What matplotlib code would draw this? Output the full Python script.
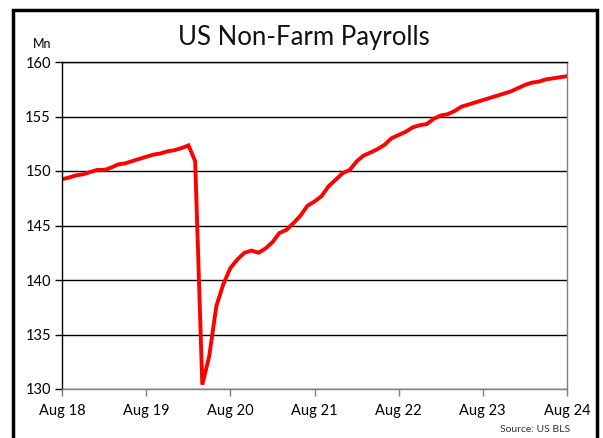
import numpy as np
import pandas as pd
import matplotlib.pyplot as plt
from matplotlib.patches import Rectangle

# Monthly non-farm payrolls, millions, Aug 2018 - Aug 2024
months = pd.date_range("2018-08-01", "2024-08-01", freq="MS")
payrolls = [
    149.25, 149.4, 149.6, 149.7, 149.9,
    150.1, 150.1, 150.3, 150.6, 150.7, 150.9, 151.1, 151.3, 151.5, 151.6, 151.8, 151.9,
    152.1, 152.35, 150.9, 130.4, 133.0, 137.6, 139.6, 141.1, 141.9, 142.5, 142.7, 142.5,
    142.9, 143.5, 144.3, 144.6, 145.2, 145.9, 146.8, 147.2, 147.7, 148.6, 149.2, 149.8,
    150.1, 150.9, 151.4, 151.7, 152.0, 152.4, 153.0, 153.3, 153.6, 154.0, 154.2, 154.3,
    154.8, 155.1, 155.2, 155.5, 155.9, 156.1, 156.3, 156.5, 156.7, 156.9, 157.1, 157.3,
    157.6, 157.9, 158.1, 158.2, 158.4, 158.5, 158.6, 158.7,
]
x_ticks = pd.date_range("2018-08-01", "2024-08-01", freq="12MS")
x_labels = ["Aug 18", "Aug 19", "Aug 20", "Aug 21", "Aug 22", "Aug 23", "Aug 24"]
y_ticks = [130, 135, 140, 145, 150, 155, 160]

plt.rcParams["font.family"] = ["Lato", "DejaVu Sans"]

fig = plt.figure(figsize=(6.03, 4.38), dpi=100)
W, H = 603, 438
ax = fig.add_axes([62 / W, 1 - 389 / H, (567 - 62) / W, (389 - 62) / H])

# outer frame
fig.patches.append(Rectangle((12.5 / W, -0.05), (597 - 12.5) / W, 1 - 9.5 / H + 0.05,
                             transform=fig.transFigure, fill=False,
                             edgecolor="black", linewidth=2.5))

ax.plot(months, payrolls, color="#ff0000", linewidth=2.8, solid_joinstyle="miter")

ax.set_xlim(months[0], months[-1])
ax.set_ylim(130, 160)
ax.set_yticks(y_ticks)
ax.set_xticks(x_ticks)
ax.set_xticklabels(x_labels)
ax.tick_params(axis="both", labelsize=10.5, colors="black")
ax.tick_params(axis="y", length=5, width=1, color="black", pad=3)
ax.tick_params(axis="x", length=5, width=1, color="#808080", pad=6)
ax.yaxis.grid(True, color="black", linewidth=1)
ax.set_axisbelow(True)

for side in ["top", "left"]:
    ax.spines[side].set_color("black")
for side in ["bottom", "right"]:
    ax.spines[side].set_color("#808080")
for s in ax.spines.values():
    s.set_linewidth(1)

fig.text(304 / W, 1 - 37 / H, "US Non-Farm Payrolls", ha="center", va="center",
         fontsize=18.5, color="#111111")
fig.text(42 / W, 1 - 44 / H, "Mn", ha="center", va="center", fontsize=9)
fig.text(570 / W, 1 - 430 / H, "Source: US BLS", ha="right", va="center",
         fontsize=7.5, color="#333333")

fig.savefig("out.png", dpi=100)
